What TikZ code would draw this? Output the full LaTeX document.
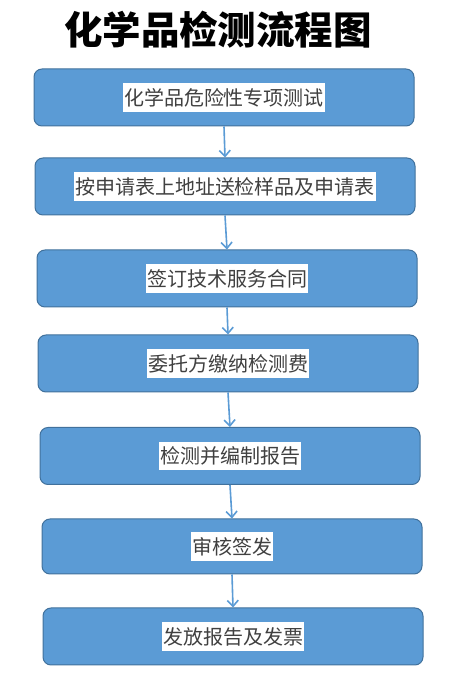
\documentclass[tikz,border=0pt]{standalone}
\usepackage{fontspec}
\newfontfamily\cjk{Noto Sans CJK SC}
\usetikzlibrary{arrows.meta}
\definecolor{boxfill}{HTML}{5B9BD5}
\definecolor{boxedge}{HTML}{41719C}
\definecolor{txt}{HTML}{404040}
\tikzset{
  stepbox/.style={draw=boxedge, line width=1pt, fill=boxfill, rounded corners=8pt,
    minimum width=380pt, minimum height=57pt, inner sep=0pt},
  steplabel/.style={fill=white, text=txt, font=\cjk\fontsize{20}{22}\selectfont,
    inner xsep=1pt, inner ysep=5pt},
  flowarrow/.style={draw=boxfill, line width=1.6pt, -{Straight Barb[length=6pt,width=11pt,line width=1.6pt]}}
}
\begin{document}
\begin{tikzpicture}[x=1pt,y=1pt]
\useasboundingbox (0,0) rectangle (450,681);
\node[font=\cjk\bfseries\fontsize{38.5}{42}\selectfont, text=black] (title) at (218,651) {化学品检测流程图};
\node[stepbox] (b1) at (224,583.5) {};
\node[stepbox] (b2) at (225,494.5) {};
\node[stepbox] (b3) at (227,402.5) {};
\node[stepbox] (b4) at (228,317.5) {};
\node[stepbox] (b5) at (230,225) {};
\node[stepbox, minimum height=55pt] (b6) at (232,134.5) {};
\node[stepbox] (b7) at (233,44.5) {};
\node[steplabel] (t1) at (b1) {化学品危险性专项测试};
\node[steplabel] (t2) at (b2) {按申请表上地址送检样品及申请表};
\node[steplabel] (t3) at (b3) {签订技术服务合同};
\node[steplabel] (t4) at (b4) {委托方缴纳检测费};
\node[steplabel] (t5) at (b5) {检测并编制报告};
\node[steplabel] (t6) at (b6) {审核签发};
\node[steplabel] (t7) at (b7) {发放报告及发票};
\draw[flowarrow] (b1.south) -- (b2.north);
\draw[flowarrow] (b2.south) -- (b3.north);
\draw[flowarrow] (b3.south) -- (b4.north);
\draw[flowarrow] (b4.south) -- (b5.north);
\draw[flowarrow] (b5.south) -- (b6.north);
\draw[flowarrow] (b6.south) -- (b7.north);
\end{tikzpicture}
\end{document}
